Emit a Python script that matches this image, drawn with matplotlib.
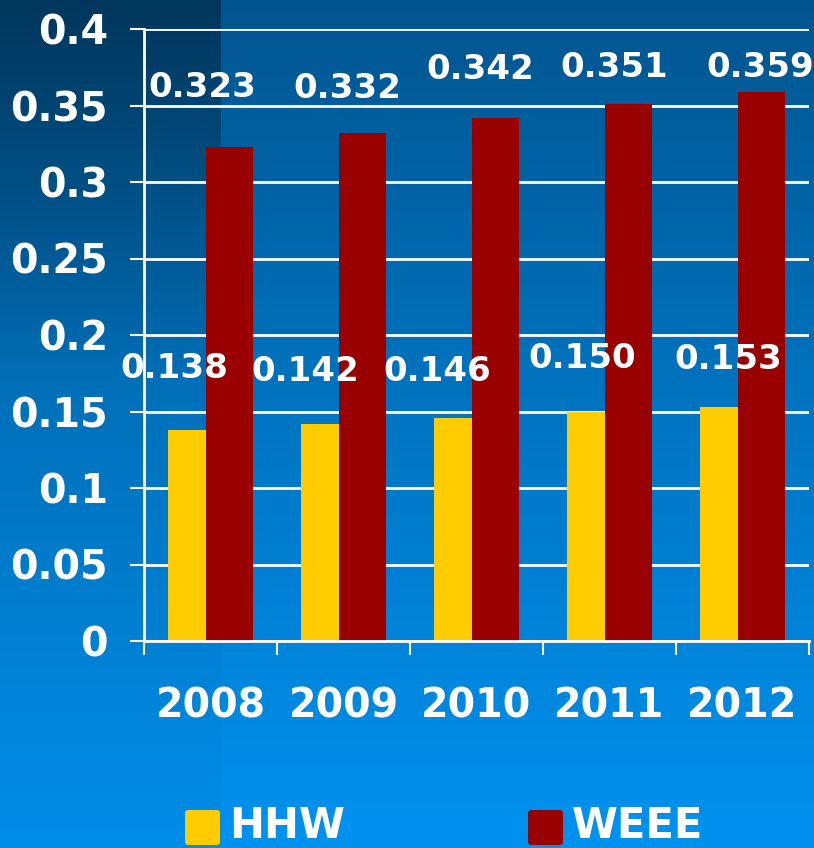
import numpy as np
import matplotlib
matplotlib.use("Agg")
import matplotlib.pyplot as plt
from matplotlib.patches import FancyBboxPatch

years = ["2008", "2009", "2010", "2011", "2012"]
hhw = [0.138, 0.142, 0.146, 0.150, 0.153]
weee = [0.323, 0.332, 0.342, 0.351, 0.359]
hhw_labels = ["0.138", "0.142", "0.146", "0.150", "0.153"]
weee_labels = ["0.323", "0.332", "0.342", "0.351", "0.359"]
yticks = [0, 0.05, 0.1, 0.15, 0.2, 0.25, 0.3, 0.35, 0.4]
ytick_labels = ["0", "0.05", "0.1", "0.15", "0.2", "0.25", "0.3", "0.35", "0.4"]

# label nudges in pixels: (dx from category centre, dy above bar top)
hhw_nudge = [(-36, 61), (-38, 52), (-39, 46), (-27, 53), (-14, 47)]
weee_nudge = [(-8, 59), (4, 45), (4, 48), (5, 36), (18, 24)]

YELLOW = "#FFCC00"
RED = "#990000"

plt.rcParams['font.family'] = ['DejaVu Sans']
plt.rcParams['font.weight'] = 'bold'

W, H = 814, 848
fig = plt.figure(figsize=(W / 100, H / 100), dpi=100)

# background gradient (dark navy at top -> bright blue at bottom)
rows = np.linspace(0, 1, H)
top = np.array([0, 85, 143]) / 255
mid = np.array([0, 118, 195]) / 255
bot = np.array([0, 146, 240]) / 255
col = np.where(rows[:, None] < 0.5,
               top + (mid - top) * (rows[:, None] / 0.5),
               mid + (bot - mid) * ((rows[:, None] - 0.5) / 0.5))
bg = np.repeat(col[:, None, :], W, axis=1)
# darker strip on the left, fading downwards
strip = np.clip(1 - rows / 0.45, 0, 1) * 0.33 + 0.03
bg[:, :221, :] *= (1 - strip[:, None, None])
bax = fig.add_axes([0, 0, 1, 1], zorder=-10)
bax.imshow(bg, aspect='auto', extent=[0, 1, 0, 1])
bax.axis('off')

ax = fig.add_axes([144 / W, 1 - 641 / H, (809 - 144) / W, (641 - 29) / H])
ax.set_facecolor('none')

x = np.arange(len(years))
bw = 0.36
off = 0.143
ax.bar(x - off, hhw, width=bw, color=YELLOW, zorder=3)
ax.bar(x + off, weee, width=bw, color=RED, zorder=4)

pt = 72 / 100  # pixels -> points
for i in range(len(years)):
    for vals, labs, nudge in [(hhw, hhw_labels, hhw_nudge), (weee, weee_labels, weee_nudge)]:
        ax.annotate(labs[i], xy=(x[i], vals[i]), xycoords='data',
                    xytext=(nudge[i][0] * pt, nudge[i][1] * pt), textcoords='offset points',
                    color='white', fontsize=24.5, fontweight='bold',
                    ha='center', va='center', zorder=6, annotation_clip=False)

ax.set_xlim(-0.5, len(years) - 0.5)
ax.set_ylim(0, 0.4)
ax.set_yticks(yticks)
ax.set_yticklabels(ytick_labels)
ax.set_xticks(x)
ax.set_xticklabels(years)
ax.set_xticks(np.arange(len(years) + 1) - 0.5, minor=True)

ax.yaxis.grid(True, color='white', linewidth=2, zorder=1)
ax.set_axisbelow(True)
for s in ['top', 'right']:
    ax.spines[s].set_visible(False)
for s in ['left', 'bottom']:
    ax.spines[s].set_color('white')
    ax.spines[s].set_linewidth(2)
    ax.spines[s].set_zorder(5)

ax.tick_params(axis='y', colors='white', length=10, width=1.5, pad=16,
               labelsize=28.5)
ax.tick_params(axis='x', which='major', length=0, pad=33, colors='white',
               labelsize=28.5)
ax.tick_params(axis='x', which='minor', length=10, width=1.5, color='white')
for t in ax.get_xticklabels() + ax.get_yticklabels():
    t.set_fontweight('bold')

# legend drawn at the bottom
for sx, c, name in [(185, YELLOW, "HHW"), (528, RED, "WEEE")]:
    p = FancyBboxPatch((sx / W, 1 - 845 / H), 35 / W, 35 / H,
                       boxstyle="round,pad=0,rounding_size=0.004",
                       transform=fig.transFigure, facecolor=c, edgecolor='none')
    fig.patches.append(p)
    fig.text((sx + 44) / W, 1 - 826 / H, name, color='white', fontsize=30,
             fontweight='bold', ha='left', va='center')

fig.savefig("out.png", dpi=100)
